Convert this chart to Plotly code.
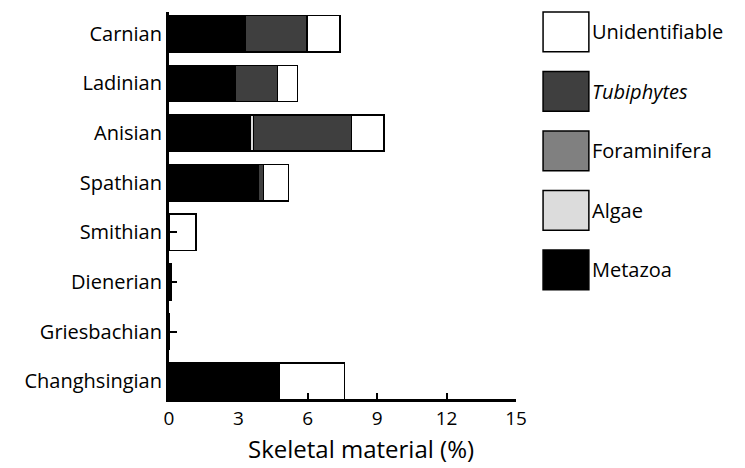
import plotly.graph_objects as go

stages = ["Changhsingian", "Griesbachian", "Dienerian", "Smithian",
          "Spathian", "Anisian", "Ladinian", "Carnian"]
metazoa = [4.77, 0.0, 0.1, 0.0, 3.86, 3.5, 2.85, 3.29]
algae = [0.0, 0.0, 0.0, 0.0, 0.0, 0.15, 0.0, 0.0]
foraminifera = [0.0, 0.0, 0.0, 0.0, 0.0, 0.0, 0.0, 0.0]
tubiphytes = [0.0, 0.0, 0.0, 0.0, 0.22, 4.24, 1.83, 2.68]
unidentifiable = [2.81, 0.0, 0.0, 1.17, 1.08, 1.41, 0.87, 1.42]
x_ticks = [0, 3, 6, 9, 12, 15]

series = [
    ("Metazoa", metazoa, "#000000"),
    ("Algae", algae, "#dcdcdc"),
    ("Foraminifera", foraminifera, "#808080"),
    ("<i>Tubiphytes</i>", tubiphytes, "#3f3f3f"),
    ("Unidentifiable", unidentifiable, "#ffffff"),
]

FONT = "Open Sans"
fig = go.Figure()
for name, vals, col in series:
    fig.add_trace(go.Bar(
        y=stages, x=vals, orientation="h", name=name,
        marker=dict(color=col, line=dict(color="black", width=1.5)),
        showlegend=False,
    ))

# custom legend (large swatches)
legend_order = series[::-1]
for i, (name, vals, col) in enumerate(legend_order):
    top = 1.0 - i * 0.1537
    fig.add_shape(type="rect", xref="paper", yref="paper",
                  x0=1.078, x1=1.21, y0=top - 0.103, y1=top,
                  fillcolor=col, line=dict(color="black", width=1.5))
    fig.add_annotation(xref="paper", yref="paper", x=1.213, y=top - 0.0515,
                       text=name, showarrow=False, xanchor="left",
                       yanchor="middle",
                       font=dict(family=FONT, size=20, color="black"))

# x-axis title (slightly right of centre, as in the original)
fig.add_annotation(xref="paper", yref="paper", x=0.553, y=-0.08,
                   text="Skeletal material (%)", showarrow=False,
                   xanchor="center", yanchor="top",
                   font=dict(family=FONT, size=24, color="black"))

fig.update_layout(
    barmode="stack",
    bargap=0.27,
    width=745, height=468,
    margin=dict(l=169, r=229, t=12, b=69),
    paper_bgcolor="white", plot_bgcolor="white",
    font=dict(family=FONT, color="black"),
    xaxis=dict(
        range=[0, 15], tickvals=x_ticks, ticks="inside", ticklen=6,
        tickwidth=2, tickcolor="black", showline=True, linecolor="black",
        linewidth=2.5, showgrid=False, zeroline=False, automargin=False,
        tickfont=dict(family=FONT, size=19),
    ),
    yaxis=dict(
        range=[-0.36, 7.44], ticks="inside", ticklen=8, tickwidth=2,
        tickcolor="black", showline=True, linecolor="black", linewidth=3,
        showgrid=False, automargin=False, tickfont=dict(family=FONT, size=20),
    ),
)

fig.write_html("out.html", config={"displayModeBar": False},
               post_script="document.body.style.margin='0';")
